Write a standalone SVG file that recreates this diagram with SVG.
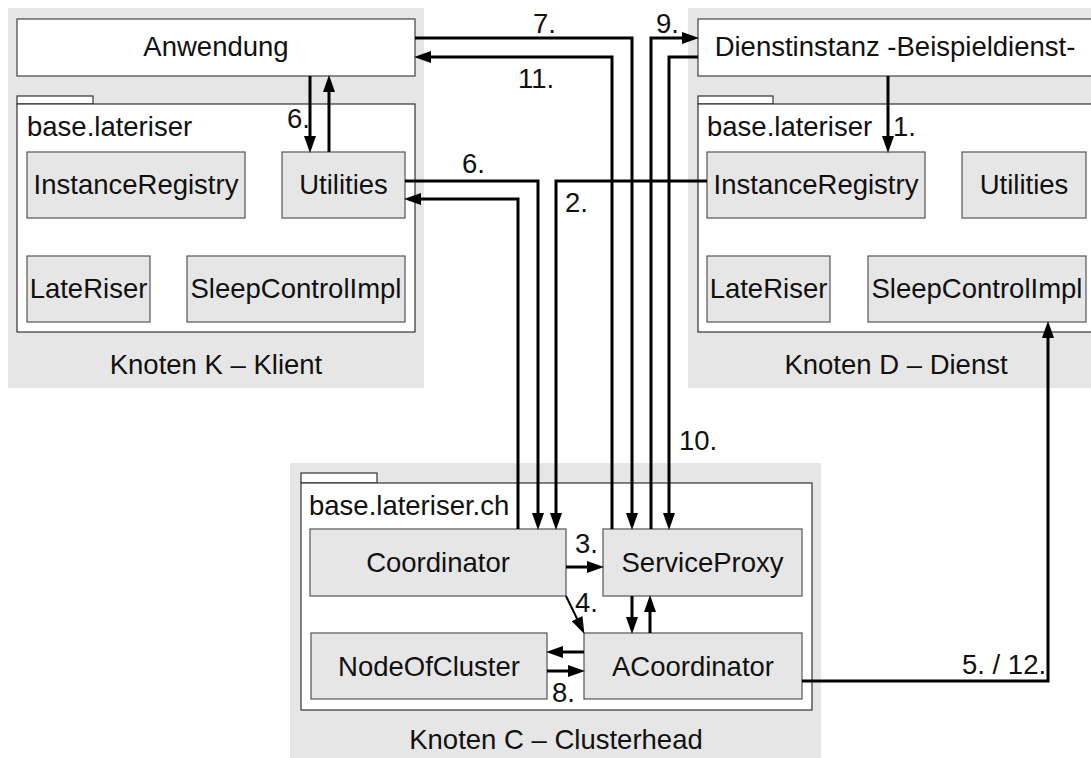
<svg xmlns="http://www.w3.org/2000/svg" width="1091" height="758" viewBox="0 0 1091 758">
  <style>
    text { font-family: "Liberation Sans", Arial, Helvetica, sans-serif; font-size: 27.5px; fill: #111; }
    .mid { text-anchor: middle; }
    .node-bg { fill: #e6e6e6; stroke: none; }
    .app { fill: #ffffff; stroke: #444; stroke-width: 1.2; }
    .pkg { fill: #ffffff; stroke: #333; stroke-width: 1.2; }
    .comp { fill: #e6e6e6; stroke: #555; stroke-width: 1.2; }
    .conn { fill: none; stroke: #000; stroke-width: 3; stroke-linejoin: miter; }
  </style>
  <defs>
    <marker id="arrow" markerUnits="userSpaceOnUse" markerWidth="17" markerHeight="12" refX="8" refY="6" orient="auto">
      <path d="M0,0 L17,6 L0,12 z" fill="#000"/>
    </marker>
  </defs>

  <!-- Knoten K: client node -->
  <g id="node-k">
    <rect class="node-bg" x="8" y="8" width="416" height="380"/>
    <rect class="app" x="17" y="19" width="398" height="57"/>
    <text class="mid" x="216" y="56">Anwendung</text>
    <rect class="pkg" x="17" y="96" width="76" height="8"/>
    <rect class="pkg" x="17" y="104" width="398" height="228"/>
    <text x="27" y="136">base.lateriser</text>
    <rect class="comp" x="27" y="152" width="218" height="66"/>
    <text class="mid" x="136" y="194">InstanceRegistry</text>
    <rect class="comp" x="282" y="152" width="123" height="66"/>
    <text class="mid" x="343.5" y="194">Utilities</text>
    <rect class="comp" x="27" y="256" width="123" height="66"/>
    <text class="mid" x="88.5" y="298">LateRiser</text>
    <rect class="comp" x="187" y="256" width="218" height="66"/>
    <text class="mid" x="296" y="298">SleepControlImpl</text>
    <text class="mid" x="216" y="374">Knoten K – Klient</text>
  </g>

  <!-- Knoten D: service node -->
  <g id="node-d">
    <rect class="node-bg" x="688" y="8" width="416" height="380"/>
    <rect class="app" x="698" y="19" width="397" height="57"/>
    <text class="mid" x="895" y="56">Dienstinstanz -Beispieldienst-</text>
    <rect class="pkg" x="698" y="96" width="75" height="8"/>
    <rect class="pkg" x="698" y="104" width="397" height="228"/>
    <text x="707" y="136">base.lateriser</text>
    <rect class="comp" x="707" y="152" width="218" height="66"/>
    <text class="mid" x="816" y="194">InstanceRegistry</text>
    <rect class="comp" x="962" y="152" width="124" height="66"/>
    <text class="mid" x="1024" y="194">Utilities</text>
    <rect class="comp" x="707" y="256" width="123" height="66"/>
    <text class="mid" x="768.5" y="298">LateRiser</text>
    <rect class="comp" x="868" y="256" width="218" height="66"/>
    <text class="mid" x="977" y="298">SleepControlImpl</text>
    <text class="mid" x="896" y="374">Knoten D – Dienst</text>
  </g>

  <!-- Knoten C: cluster head node -->
  <g id="node-c">
    <rect class="node-bg" x="290" y="463" width="531" height="300"/>
    <rect class="pkg" x="301" y="473" width="76" height="10"/>
    <rect class="pkg" x="301" y="483" width="511" height="227"/>
    <text x="309" y="515">base.lateriser.ch</text>
    <rect class="comp" x="310" y="529" width="256" height="67"/>
    <text class="mid" x="438" y="572">Coordinator</text>
    <rect class="comp" x="603" y="529" width="199" height="67"/>
    <text class="mid" x="702.5" y="572">ServiceProxy</text>
    <rect class="comp" x="311" y="633" width="236" height="66"/>
    <text class="mid" x="429" y="676">NodeOfCluster</text>
    <rect class="comp" x="584" y="633" width="218" height="66"/>
    <text class="mid" x="693" y="676">ACoordinator</text>
    <text class="mid" x="556" y="749">Knoten C – Clusterhead</text>
  </g>

  <!-- message connectors -->
  <g id="connectors">
    <path class="conn" d="M310,76 V144" marker-end="url(#arrow)"/>
    <path class="conn" d="M329,152 V84" marker-end="url(#arrow)"/>
    <path class="conn" d="M415,38 H632 V521" marker-end="url(#arrow)"/>
    <path class="conn" d="M612,529 V57 H423" marker-end="url(#arrow)"/>
    <path class="conn" d="M651,529 V38 H690" marker-end="url(#arrow)"/>
    <path class="conn" d="M698,57 H669 V521" marker-end="url(#arrow)"/>
    <path class="conn" d="M405,181 H538 V521" marker-end="url(#arrow)"/>
    <path class="conn" d="M518,529 V199 H413" marker-end="url(#arrow)"/>
    <path class="conn" d="M707,181 H556 V521" marker-end="url(#arrow)"/>
    <path class="conn" d="M888,76 V144" marker-end="url(#arrow)"/>
    <path class="conn" d="M566,567 H595" marker-end="url(#arrow)"/>
    <path class="conn" d="M566,596 L580.5,625.8" marker-end="url(#arrow)" style="stroke-width:2"/>
    <path class="conn" d="M632,596 V625" marker-end="url(#arrow)"/>
    <path class="conn" d="M650,633 V604" marker-end="url(#arrow)"/>
    <path class="conn" d="M584,652 H555" marker-end="url(#arrow)"/>
    <path class="conn" d="M547,671 H576" marker-end="url(#arrow)"/>
    <path class="conn" d="M802,681 H1048 V330" marker-end="url(#arrow)"/>

    <text x="287" y="128">6.</text>
    <text x="893" y="136">1.</text>
    <text x="533" y="33">7.</text>
    <text x="518" y="88">11.</text>
    <text x="656" y="33">9.</text>
    <text x="679" y="450">10.</text>
    <text x="462" y="173">6.</text>
    <text x="565" y="212">2.</text>
    <text x="575" y="553">3.</text>
    <text x="575" y="612">4.</text>
    <text x="552" y="702">8.</text>
    <text x="962" y="674">5. / 12.</text>
  </g>
</svg>
